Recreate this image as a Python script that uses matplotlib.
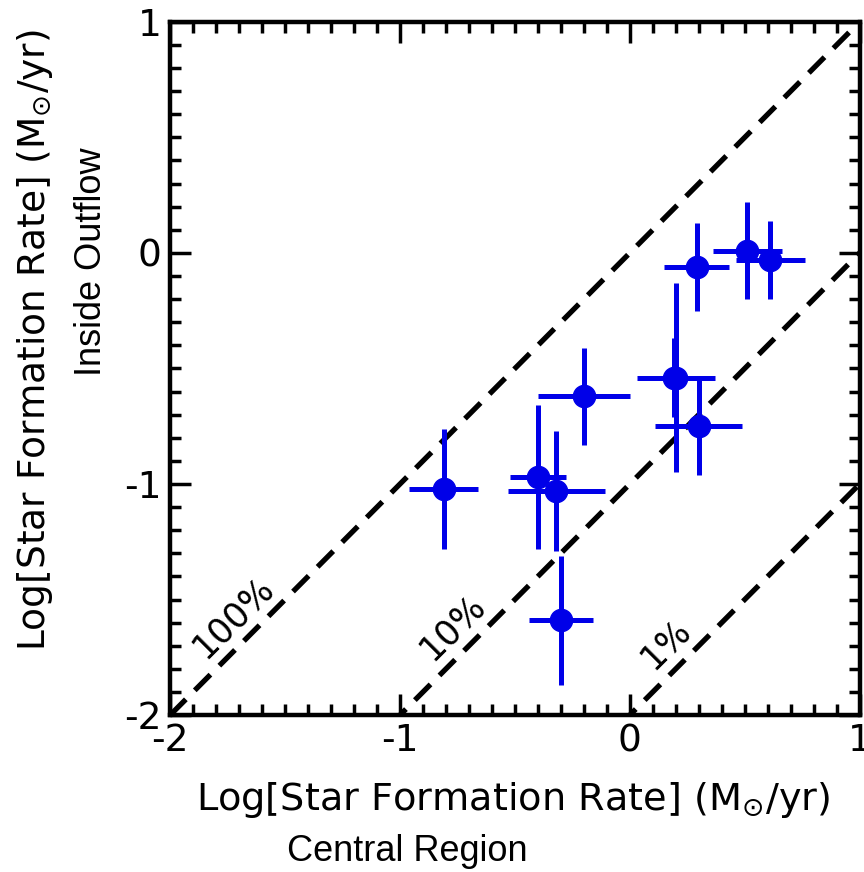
import math
import matplotlib
matplotlib.use("Agg")
import matplotlib.pyplot as plt
from matplotlib.ticker import MultipleLocator

plt.rcParams["axes.unicode_minus"] = False

# log SFR: central region (x) vs inside outflow (y), with 1-sigma errors
sfr_central = [-0.81, -0.40, -0.32, -0.30, -0.20, 0.20, 0.19, 0.30, 0.29, 0.51, 0.61]
sfr_central_err = [0.15, 0.12, 0.21, 0.14, 0.20, 0.17, 0.08, 0.19, 0.14, 0.15, 0.15]
sfr_outflow = [-1.02, -0.97, -1.03, -1.59, -0.62, -0.54, -0.54, -0.75, -0.06, 0.01, -0.03]
sfr_outflow_err = [0.26, 0.31, 0.26, 0.28, 0.21, 0.41, 0.17, 0.21, 0.19, 0.21, 0.17]

# constant-fraction reference lines: y = x + log10(fraction)
fractions = [1.0, 0.1, 0.01]
fraction_labels = ["100%", "10%", "1%"]
label_x = [-1.83, -0.84, 0.12]

fig = plt.figure(figsize=(8.64, 8.72), dpi=100)
ax = fig.add_axes([0.197, 0.18, 0.798, 0.795])

xs = [-2.0, 1.0]
for frac, lab, lx in zip(fractions, fraction_labels, label_x):
    off = math.log10(frac)
    ax.plot(xs, [x + off for x in xs], color="black", lw=3.8,
            linestyle=(0, (4.2, 2.4)), zorder=1)
    ax.text(lx, lx + off + 0.05, lab, rotation=45, fontsize=25,
            ha="left", va="bottom", rotation_mode="anchor")

ax.errorbar(sfr_central, sfr_outflow, xerr=sfr_central_err, yerr=sfr_outflow_err,
            fmt="o", color="#0000e8", ms=16, elinewidth=3.6, capsize=0, zorder=3)

ax.set_xlim(-2, 1)
ax.set_ylim(-2, 1)
ax.xaxis.set_major_locator(MultipleLocator(1))
ax.yaxis.set_major_locator(MultipleLocator(1))
ax.xaxis.set_minor_locator(MultipleLocator(0.1))
ax.yaxis.set_minor_locator(MultipleLocator(0.1))
ax.tick_params(which="both", direction="in", top=True, right=True, width=2.5)
ax.tick_params(which="major", length=15, labelsize=27, pad=6)
ax.tick_params(which="minor", length=8)
for sp in ax.spines.values():
    sp.set_linewidth(3.2)

sfr_unit = r"Log[Star Formation Rate] (M$_{\mathregular{⊙}}$/yr)"
fig.text(0.594, 0.082, sfr_unit, fontsize=27.5, ha="center", va="center")
fig.text(0.471, 0.024, "Central Region", fontsize=26, family="Liberation Sans",
         ha="center", va="center")
fig.text(0.04, 0.61, sfr_unit, fontsize=27, rotation=90, ha="center", va="center")
fig.text(0.106, 0.70, "Inside Outflow", fontsize=26, family="Liberation Sans",
         rotation=90, ha="center", va="center")

fig.savefig("out.png", dpi=100)
